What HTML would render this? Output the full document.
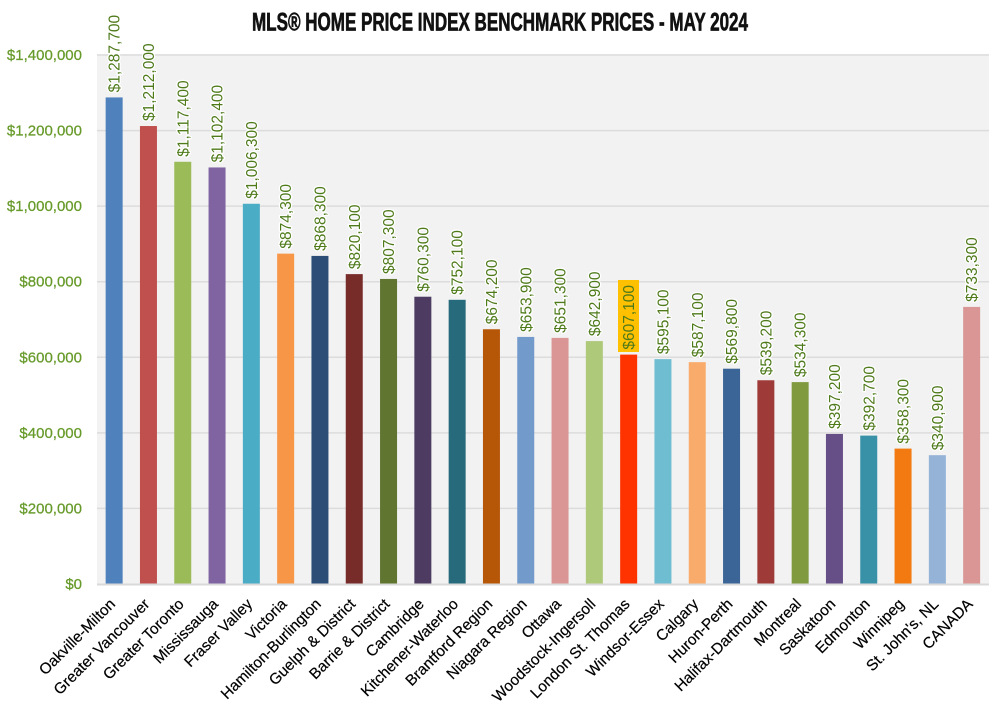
<!DOCTYPE html>
<html>
<head>
<meta charset="utf-8">
<style>
  html,body{margin:0;padding:0;background:#fff;}
  svg{display:block;}
  .yl{font-family:"Liberation Sans",Arial,sans-serif;font-size:15px;fill:#679A2A;stroke:#679A2A;stroke-width:0.25px;}
  .dl{font-family:"Liberation Sans",Arial,sans-serif;font-size:15.5px;fill:#4E7A1A;stroke:#fff;stroke-width:2.5px;paint-order:stroke;stroke-linejoin:round;}
  .dlh{font-family:"Liberation Sans",Arial,sans-serif;font-size:15.5px;fill:#4E7A1A;}
  .cl{font-family:"Liberation Sans",Arial,sans-serif;font-size:15.3px;fill:#000;stroke:#000;stroke-width:0.2px;}
  .title{font-family:"Liberation Sans Narrow","Liberation Sans",Arial,sans-serif;font-weight:bold;font-size:25px;fill:#111;stroke:#111;stroke-width:0.7px;}
</style>
</head>
<body>
<svg width="1000" height="714" viewBox="0 0 1000 714" xmlns="http://www.w3.org/2000/svg">
  <rect x="0" y="0" width="1000" height="714" fill="#fff"/>
  <rect x="97" y="54" width="892" height="531" fill="#F2F2F2"/>
  <g stroke="#DCDCDC" stroke-width="1.5">
    <line x1="97" y1="55" x2="989" y2="55"/>
    <line x1="97" y1="130.6" x2="989" y2="130.6"/>
    <line x1="97" y1="206.1" x2="989" y2="206.1"/>
    <line x1="97" y1="281.7" x2="989" y2="281.7"/>
    <line x1="97" y1="357.3" x2="989" y2="357.3"/>
    <line x1="97" y1="432.9" x2="989" y2="432.9"/>
    <line x1="97" y1="508.4" x2="989" y2="508.4"/>
  </g>
  <text class="title" x="252" y="30.5" textLength="496" lengthAdjust="spacingAndGlyphs">MLS® HOME PRICE INDEX BENCHMARK PRICES - MAY 2024</text>
  <g class="yl" text-anchor="end">
    <text x="82" y="60">$1,400,000</text>
    <text x="82" y="135.6">$1,200,000</text>
    <text x="82" y="211.1">$1,000,000</text>
    <text x="82" y="286.7">$800,000</text>
    <text x="82" y="362.3">$600,000</text>
    <text x="82" y="437.9">$400,000</text>
    <text x="82" y="513.4">$200,000</text>
    <text x="82" y="589">$0</text>
  </g>
  <g>
    <rect x="105.65" y="97.43" width="17" height="486.57" fill="#4F81BD"/>
    <rect x="139.95" y="126.03" width="17" height="457.97" fill="#C0504D"/>
    <rect x="174.25" y="161.78" width="17" height="422.22" fill="#9BBB59"/>
    <rect x="208.55" y="167.45" width="17" height="416.55" fill="#8064A2"/>
    <rect x="242.85" y="203.76" width="17" height="380.24" fill="#4BACC6"/>
    <rect x="277.15" y="253.64" width="17" height="330.36" fill="#F79646"/>
    <rect x="311.45" y="255.91" width="17" height="328.09" fill="#2C4D75"/>
    <rect x="345.75" y="274.12" width="17" height="309.88" fill="#772C2A"/>
    <rect x="380.05" y="278.96" width="17" height="305.04" fill="#5F7530"/>
    <rect x="414.35" y="296.72" width="17" height="287.28" fill="#4D3B62"/>
    <rect x="448.65" y="299.81" width="17" height="284.19" fill="#276A7C"/>
    <rect x="482.95" y="329.25" width="17" height="254.75" fill="#B65708"/>
    <rect x="517.25" y="336.92" width="17" height="247.08" fill="#729ACA"/>
    <rect x="551.55" y="337.90" width="17" height="246.10" fill="#D99694"/>
    <rect x="585.85" y="341.08" width="17" height="242.92" fill="#AFC97A"/>
    <rect x="620.15" y="354.60" width="17" height="229.40" fill="#FF3300"/>
    <rect x="654.45" y="359.14" width="17" height="224.86" fill="#6FBDD1"/>
    <rect x="688.75" y="362.16" width="17" height="221.84" fill="#F9AB6B"/>
    <rect x="723.05" y="368.70" width="17" height="215.30" fill="#3A6596"/>
    <rect x="757.35" y="380.26" width="17" height="203.74" fill="#9E3B38"/>
    <rect x="791.65" y="382.11" width="17" height="201.89" fill="#7F9A3F"/>
    <rect x="825.95" y="433.92" width="17" height="150.08" fill="#664E86"/>
    <rect x="860.25" y="435.61" width="17" height="148.39" fill="#3891A7"/>
    <rect x="894.55" y="448.61" width="17" height="135.39" fill="#F27A10"/>
    <rect x="928.85" y="455.19" width="17" height="128.81" fill="#95B3D7"/>
    <rect x="963.15" y="306.92" width="17" height="277.08" fill="#D99694"/>
  </g>
  <line x1="97" y1="584.5" x2="989" y2="584.5" stroke="#D9D9D9" stroke-width="2"/>
  <rect x="618" y="280" width="21" height="72" fill="#FFC000"/>
  <g class="dl">
    <text transform="translate(119.65,92.4) rotate(-90)">$1,287,700</text>
    <text transform="translate(153.95,121) rotate(-90)">$1,212,000</text>
    <text transform="translate(188.25,156.8) rotate(-90)">$1,117,400</text>
    <text transform="translate(222.55,162.4) rotate(-90)">$1,102,400</text>
    <text transform="translate(256.85,198.8) rotate(-90)">$1,006,300</text>
    <text transform="translate(291.15,248.6) rotate(-90)">$874,300</text>
    <text transform="translate(325.45,250.9) rotate(-90)">$868,300</text>
    <text transform="translate(359.75,269.1) rotate(-90)">$820,100</text>
    <text transform="translate(394.05,274) rotate(-90)">$807,300</text>
    <text transform="translate(428.35,291.7) rotate(-90)">$760,300</text>
    <text transform="translate(462.65,294.8) rotate(-90)">$752,100</text>
    <text transform="translate(496.95,324.2) rotate(-90)">$674,200</text>
    <text transform="translate(531.25,331.9) rotate(-90)">$653,900</text>
    <text transform="translate(565.55,332.9) rotate(-90)">$651,300</text>
    <text transform="translate(599.85,336.1) rotate(-90)">$642,900</text>
    <text transform="translate(668.45,354.1) rotate(-90)">$595,100</text>
    <text transform="translate(702.75,357.2) rotate(-90)">$587,100</text>
    <text transform="translate(737.05,363.7) rotate(-90)">$569,800</text>
    <text transform="translate(771.35,375.3) rotate(-90)">$539,200</text>
    <text transform="translate(805.65,377.1) rotate(-90)">$534,300</text>
    <text transform="translate(839.95,428.9) rotate(-90)">$397,200</text>
    <text transform="translate(874.25,430.6) rotate(-90)">$392,700</text>
    <text transform="translate(908.55,443.6) rotate(-90)">$358,300</text>
    <text transform="translate(942.85,450.2) rotate(-90)">$340,900</text>
    <text transform="translate(977.15,301.9) rotate(-90)">$733,300</text>
  </g>
  <text class="dlh" transform="translate(634.15,349.6) rotate(-90)">$607,100</text>
  <g class="cl" text-anchor="end">
    <text transform="translate(116.15,605) rotate(-45)">Oakville-Milton</text>
    <text transform="translate(150.45,605) rotate(-45)">Greater Vancouver</text>
    <text transform="translate(184.75,605) rotate(-45)">Greater Toronto</text>
    <text transform="translate(219.05,605) rotate(-45)">Mississauga</text>
    <text transform="translate(253.35,605) rotate(-45)">Fraser Valley</text>
    <text transform="translate(287.65,605) rotate(-45)">Victoria</text>
    <text transform="translate(321.95,605) rotate(-45)">Hamilton-Burlington</text>
    <text transform="translate(356.25,605) rotate(-45)">Guelph &amp; District</text>
    <text transform="translate(390.55,605) rotate(-45)">Barrie &amp; District</text>
    <text transform="translate(424.85,605) rotate(-45)">Cambridge</text>
    <text transform="translate(459.15,605) rotate(-45)">Kitchener-Waterloo</text>
    <text transform="translate(493.45,605) rotate(-45)">Brantford Region</text>
    <text transform="translate(527.75,605) rotate(-45)">Niagara Region</text>
    <text transform="translate(562.05,605) rotate(-45)">Ottawa</text>
    <text transform="translate(596.35,605) rotate(-45)">Woodstock-Ingersoll</text>
    <text transform="translate(630.65,605) rotate(-45)">London St. Thomas</text>
    <text transform="translate(664.95,605) rotate(-45)">Windsor-Essex</text>
    <text transform="translate(699.25,605) rotate(-45)">Calgary</text>
    <text transform="translate(733.55,605) rotate(-45)">Huron-Perth</text>
    <text transform="translate(767.85,605) rotate(-45)">Halifax-Dartmouth</text>
    <text transform="translate(802.15,605) rotate(-45)">Montreal</text>
    <text transform="translate(836.45,605) rotate(-45)">Saskatoon</text>
    <text transform="translate(870.75,605) rotate(-45)">Edmonton</text>
    <text transform="translate(905.05,605) rotate(-45)">Winnipeg</text>
    <text transform="translate(939.35,605) rotate(-45)">St. John's, NL</text>
    <text transform="translate(973.65,605) rotate(-45)">CANADA</text>
  </g>
</svg>
</body>
</html>
